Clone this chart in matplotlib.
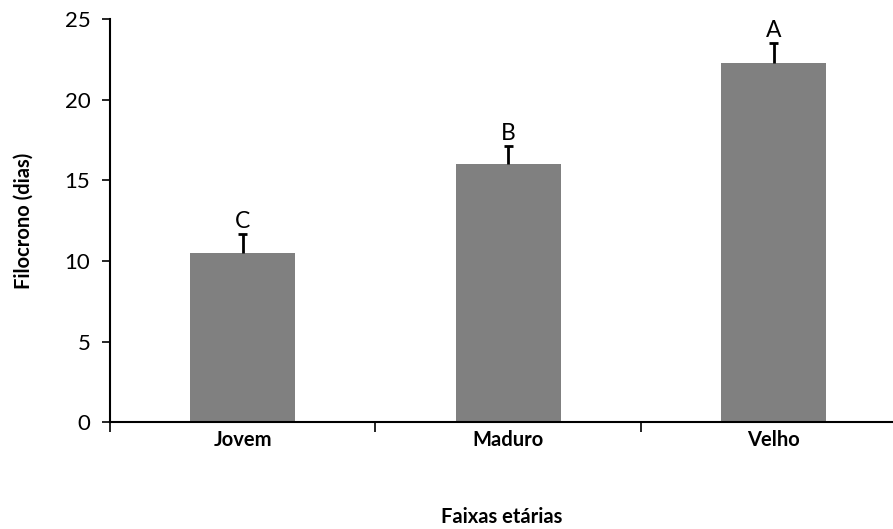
import numpy as np
import matplotlib.pyplot as plt

plt.rcParams['font.family'] = ['Lato', 'DejaVu Sans']

categorias = ['Jovem', 'Maduro', 'Velho']
filocrono = [10.5, 16.0, 22.3]
erro = [1.15, 1.1, 1.2]
letras = ['C', 'B', 'A']

fig = plt.figure(figsize=(8.93, 5.29), dpi=100)
ax = fig.add_axes([0.123, 0.202, 0.877, 0.762])

x = np.arange(len(categorias))
ax.bar(x, filocrono, width=0.395, color='#808080', zorder=2)
# only the upper half of the error bar, like the original
topo = np.array(filocrono) + np.array(erro)
ax.vlines(x, filocrono, topo, color='black', linewidth=2, zorder=3)
ax.hlines(topo, x - 0.017, x + 0.017, color='black', linewidth=2, zorder=3)

for xi, t, l in zip(x, topo, letras):
    ax.text(xi, t + 0.12, l, ha='center', va='bottom', fontsize=16.5)

ax.set_xlim(-0.5, 2.449)
ax.set_ylim(0, 25)
ax.set_yticks(range(0, 26, 5))
ax.tick_params(axis='y', labelsize=16, length=6, width=1.2, direction='out', pad=8)

# ticks between categories, labels at centres
ax.set_xticks([-0.5, 0.5, 1.5], minor=False)
ax.set_xticklabels([])
ax.set_xticks(x, minor=True)
ax.set_xticklabels(categorias, minor=True, fontsize=14.5, fontweight='bold')
ax.tick_params(axis='x', which='minor', length=0, pad=6)
ax.tick_params(axis='x', which='major', length=7, width=1.2, direction='out')

for s in ['top', 'right']:
    ax.spines[s].set_visible(False)
ax.spines['left'].set_linewidth(1.5)
ax.spines['bottom'].set_linewidth(1.5)

ax.set_ylabel('Filocrono (dias)', fontsize=14.5, fontweight='bold', labelpad=22)
ax.set_xlabel('Faixas etárias', fontsize=14.5, fontweight='bold', labelpad=41)

fig.savefig('out.png', dpi=100)
